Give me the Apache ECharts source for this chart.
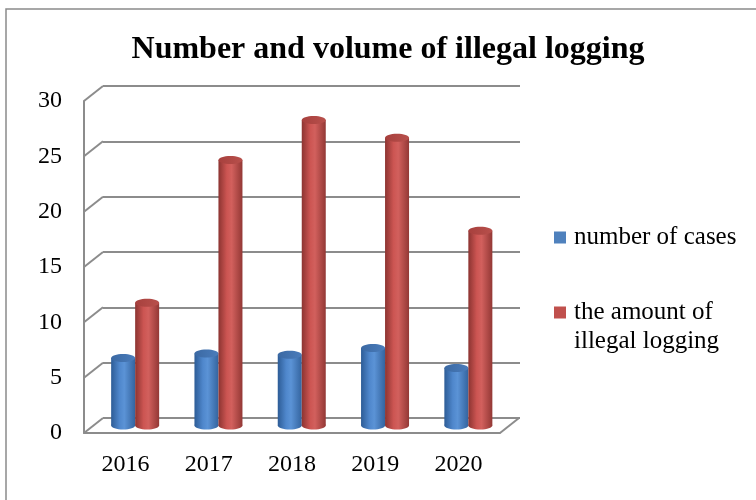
<!DOCTYPE html>
<html>
<head>
<meta charset="utf-8">
<script src="https://cdn.jsdelivr.net/npm/echarts@6/dist/echarts.min.js"></script>
<style>html,body{margin:0;padding:0;background:#fff}#c{width:756px;height:500px}</style>
</head>
<body>
<div id="c"></div>
<script>
var years = ['2016', '2017', '2018', '2019', '2020'];
var casesValues = [6.1, 6.5, 6.4, 7.0, 5.2];
var volumeValues = [11.1, 24.0, 27.6, 26.0, 17.6];
var yTicks = [0, 5, 10, 15, 20, 25, 30];
var titleText = 'Number and volume of illegal logging';
var seriesNames = ['number of cases', 'the amount of illegal logging'];

var FONT = '"Liberation Serif", "DejaVu Serif", serif';
var DX = 19, DY = 15; // depth offset (front -> back)
var BAR_W = 24;

function cylinder(colors, offset) {
  return function (params, api) {
    var idx = api.value(0);
    var v = api.value(1);
    var top = api.coord([idx, v]);
    var base = api.coord([idx, 0]);
    var cx = top[0] + offset;
    var r = BAR_W / 2, ry = 4;
    var grad = new echarts.graphic.LinearGradient(0, 0, 1, 0, [
      {offset: 0, color: colors[0]},
      {offset: 0.35, color: colors[1]},
      {offset: 0.55, color: colors[2]},
      {offset: 1, color: colors[3]}
    ]);
    var topGrad = new echarts.graphic.LinearGradient(0, 0, 1, 0, [
      {offset: 0, color: colors[4]},
      {offset: 1, color: colors[5]}
    ]);
    return {
      type: 'group',
      children: [
        {type: 'ellipse', shape: {cx: cx, cy: base[1], rx: r, ry: ry}, style: {fill: grad}},
        {type: 'rect', shape: {x: cx - r, y: top[1], width: BAR_W, height: base[1] - top[1]}, style: {fill: grad}},
        {type: 'ellipse', shape: {cx: cx, cy: top[1], rx: r, ry: ry}, style: {fill: topGrad}}
      ]
    };
  };
}

var blueColors = ['#2d5c96', '#4f87cc', '#5b93d6', '#34649f', '#3b69a3', '#4a7cbb'];
var redColors = ['#8c3431', '#cc5552', '#d2605d', '#933835', '#a7403d', '#b8504c'];

var chart = echarts.init(document.getElementById('c'));
chart.setOption({
  animation: false,
  backgroundColor: '#fff',
  title: {
    text: titleText,
    left: 383, textAlign: 'center', top: 29,
    textStyle: {fontFamily: FONT, fontSize: 32, fontWeight: 'bold', color: '#000'}
  },
  graphic: [{
    type: 'rect', shape: {x: 6, y: 9, width: 780, height: 520},
    style: {fill: 'none', stroke: '#8a8a8a', lineWidth: 1.5}, z: -10
  }],
  legend: {
    orient: 'vertical', left: 554, top: 223, padding: 0,
    itemWidth: 12, itemHeight: 12, itemGap: 17, icon: 'rect',
    textStyle: {
      fontFamily: FONT, fontSize: 25, color: '#000', lineHeight: 29,
      rich: {a: {fontFamily: FONT, fontSize: 25, color: '#000', lineHeight: 29, padding: [0, 0, 0, 3]}}
    },
    formatter: function (n) {
      return n === seriesNames[1] ? '{a| }\n{a|the amount of}\n{a|illegal logging}' : '{a|' + n + '}';
    },
    data: [seriesNames[0], seriesNames[1]]
  },
  grid: [
    {left: 103, top: 86, width: 417, height: 332},    // back wall
    {left: 84, top: 101, width: 416, height: 332},    // front
    {left: 93.5, top: 93.5, width: 416.5, height: 332} // bars (mid depth)
  ],
  xAxis: [
    {gridIndex: 0, type: 'category', data: years, show: false},
    {gridIndex: 1, type: 'category', data: years,
      axisLine: {show: true, lineStyle: {color: '#8c8c8c', width: 2}},
      axisTick: {show: false},
      axisLabel: {fontFamily: FONT, fontSize: 24, color: '#000', margin: 20}},
    {gridIndex: 2, type: 'category', data: years, show: false}
  ],
  yAxis: [
    {gridIndex: 0, type: 'value', min: 0, max: 30, interval: 5,
      axisLine: {show: false}, axisTick: {show: false}, axisLabel: {show: false},
      splitLine: {show: true, lineStyle: {color: '#8c8c8c', width: 2}}},
    {gridIndex: 1, type: 'value', min: 0, max: 30, interval: 5,
      axisLine: {show: true, lineStyle: {color: '#8c8c8c', width: 2}},
      axisTick: {show: false}, splitLine: {show: false},
      axisLabel: {fontFamily: FONT, fontSize: 24, color: '#000', margin: 22}},
    {gridIndex: 2, type: 'value', min: 0, max: 30, interval: 5, show: false}
  ],
  series: [
    {
      type: 'custom', name: 'walls', xAxisIndex: 1, yAxisIndex: 1, silent: true, z: 1,
      data: yTicks.map(function (t) { return [0, t]; }),
      renderItem: function (params, api) {
        var v = api.value(1);
        var y = api.coord([0, v])[1];
        var cs = params.coordSys;
        var style = {stroke: '#8c8c8c', lineWidth: 2};
        var children = [{type: 'line', shape: {x1: cs.x, y1: y, x2: cs.x + DX, y2: y - DY}, style: style}];
        if (v === 0) {
          children.push({type: 'line', shape: {x1: cs.x + cs.width, y1: y, x2: cs.x + cs.width + DX, y2: y - DY}, style: style});
        }
        return {type: 'group', children: children};
      }
    },
    {
      type: 'custom', name: seriesNames[0], xAxisIndex: 2, yAxisIndex: 2, z: 5,
      itemStyle: {color: '#4f81bd'},
      data: casesValues.map(function (v, i) { return [i, v]; }),
      renderItem: cylinder(blueColors, -12)
    },
    {
      type: 'custom', name: seriesNames[1], xAxisIndex: 2, yAxisIndex: 2, z: 5,
      itemStyle: {color: '#c0504d'},
      data: volumeValues.map(function (v, i) { return [i, v]; }),
      renderItem: cylinder(redColors, 12)
    }
  ]
});
</script>
</body>
</html>
